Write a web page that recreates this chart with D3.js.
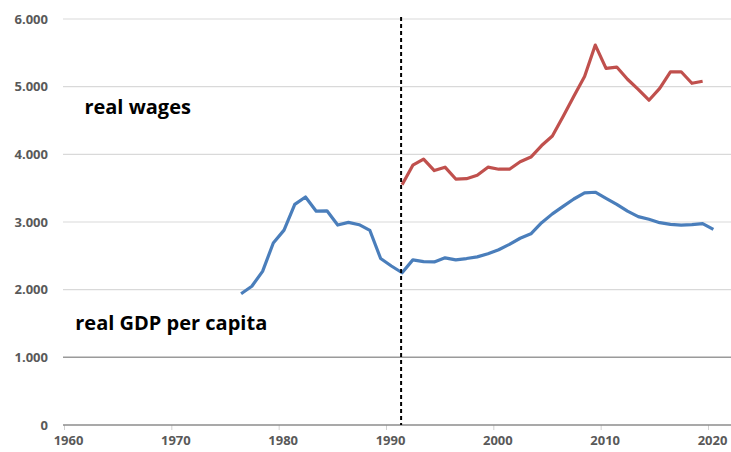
<!DOCTYPE html>
<html><head><meta charset="utf-8">
<script src="https://cdn.jsdelivr.net/npm/d3@7"></script>
<style>html,body{margin:0;padding:0;background:#fff;}svg{display:block;}</style>
</head><body>
<svg id="chart" width="731" height="452"></svg>
<script>
const gdpYears = d3.range(1976, 2021);
const gdpValues = [1940,2050,2270,2690,2880,3260,3370,3160,3165,2955,2995,2960,2875,2460,2350,2250,2440,2415,2410,2470,2440,2460,2485,2530,2590,2670,2760,2825,2990,3120,3230,3340,3430,3440,3350,3260,3160,3080,3040,2990,2965,2955,2960,2975,2890];
const wageYears = d3.range(1991, 2020);
const wageValues = [3550,3840,3930,3760,3810,3635,3640,3690,3810,3780,3780,3890,3960,4130,4270,4560,4860,5150,5615,5270,5290,5110,4960,4800,4975,5220,5220,5050,5080];
const xTicks = [1960,1970,1980,1990,2000,2010,2020];
const yTicks = [0,1000,2000,3000,4000,5000,6000];
const breakYear = 1991;
const labels = [{text:"real wages", year:1961.9, value:4600}, {text:"real GDP per capita", year:1961.05, value:1410}];

const svg = d3.select("#chart");
const x = d3.scaleLinear().domain([1960, 2020]).range([64, 708]);
const y = d3.scaleLinear().domain([0, 6000]).range([425, 19]);
const fmt = v => v === 0 ? "0" : d3.format(",")(v).replace(/,/g, ".");
const px = yr => x(yr + 0.5);
const tickFont = "'Open Sans', sans-serif";

// gridlines
svg.append("g").selectAll("line").data(yTicks.filter(t => t > 0)).join("line")
  .attr("x1", 63).attr("x2", 731)
  .attr("y1", d => y(d)).attr("y2", d => y(d))
  .attr("stroke", d => d === 1000 ? "#9a9a9a" : "#d9d9d9")
  .attr("stroke-width", d => d === 1000 ? 1.5 : 1.2);

// y axis labels
svg.append("g").selectAll("text").data(yTicks).join("text")
  .attr("x", 48).attr("y", d => y(d)).attr("dy", "0.36em")
  .attr("text-anchor", "end")
  .attr("font-family", tickFont).attr("font-weight", "bold")
  .attr("font-size", 13).attr("fill", "#595959")
  .text(fmt);

// x axis
const xAxis = d3.axisBottom(x).tickValues(xTicks).tickSize(5).tickPadding(6).tickFormat(d3.format("d"));
const gx = svg.append("g").attr("transform", `translate(0,${y(0)})`).call(xAxis);
gx.select(".domain").remove();
gx.selectAll(".tick line").attr("stroke", "#d0d0d0");
gx.selectAll(".tick text").attr("font-family", tickFont).attr("font-weight", "bold")
  .attr("font-size", 13).attr("fill", "#595959").attr("dx", 4);
svg.append("line").attr("x1", 63).attr("x2", 731).attr("y1", y(0)).attr("y2", y(0))
  .attr("stroke", "#8c8c8c").attr("stroke-width", 1.5);

// lines
const line = d3.line().x(d => px(d[0])).y(d => y(d[1]));
svg.append("path").datum(gdpYears.map((yr, i) => [yr, gdpValues[i]]))
  .attr("d", line).attr("fill", "none").attr("stroke", "#4a7ebb").attr("stroke-width", 3.2)
  .attr("stroke-linejoin", "round");
svg.append("path").datum(wageYears.map((yr, i) => [yr, wageValues[i]]))
  .attr("d", line).attr("fill", "none").attr("stroke", "#c0504d").attr("stroke-width", 3.2)
  .attr("stroke-linejoin", "round");

// break line
svg.append("line").attr("x1", px(breakYear) - 1).attr("x2", px(breakYear) - 1)
  .attr("y1", 17).attr("y2", y(0))
  .attr("stroke", "#000").attr("stroke-width", 2).attr("stroke-dasharray", "4,3");

// labels
svg.append("g").selectAll("text").data(labels).join("text")
  .attr("x", d => x(d.year)).attr("y", d => y(d.value))
  .attr("font-family", "'Open Sans', sans-serif").attr("font-weight", "bold")
  .attr("font-size", 20).attr("fill", "#000")
  .text(d => d.text);
</script>
</body></html>
